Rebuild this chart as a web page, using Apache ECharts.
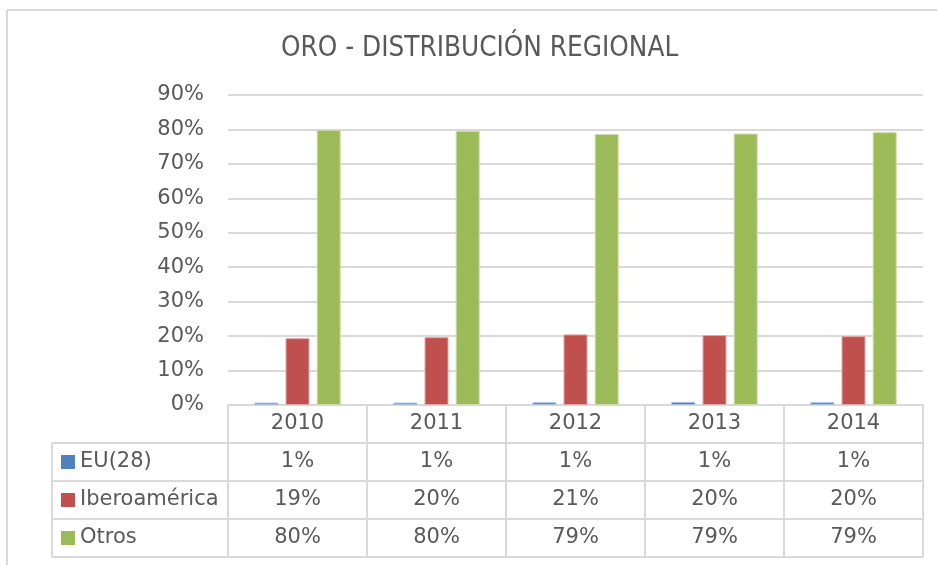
<!DOCTYPE html>
<html>
<head>
<meta charset="utf-8">
<script src="https://cdn.jsdelivr.net/npm/echarts@6/dist/echarts.min.js"></script>
<style>
  html, body { margin: 0; padding: 0; background: #fff; overflow: hidden; }
  #box { width: 937px; height: 565px; }
</style>
</head>
<body>
<div id="box"></div>
<script>
// datos del gráfico (porcentajes)
var years = ['2010', '2011', '2012', '2013', '2014'];
var seriesNames = ['EU(28)', 'Iberoamérica', 'Otros'];
var eu = [0.7, 0.7, 0.8, 0.9, 0.8];
var ibero = [19.4, 19.7, 20.5, 20.3, 20.0];
var otros = [79.9, 79.6, 78.7, 78.8, 79.2];
var yTicks = [0, 10, 20, 30, 40, 50, 60, 70, 80, 90];

var colors = ['#4f81bd', '#c0504d', '#9bbb59'];
var gray = '#595959';
var lineGray = '#d9d9d9';
var font = 'DejaVu Sans';
var fs = 21;

// layout
var gridLeft = 228, gridRight = 14, gridTop = 95, gridBottom = 160;
var rowH = 38;
var tableLeft = 52;
var H = 565, W = 937;
var axisY = H - gridBottom;

function pct(arr) {
    return arr.map(function (v) { return Math.round(v) + '%'; });
}

// fila de la tabla como eje x extra
function rowAxis(idx, data) {
    return {
        type: 'category',
        gridIndex: 0,
        position: 'bottom',
        offset: rowH * idx,
        data: data,
        axisLine: {show: true, lineStyle: {color: lineGray, width: 2}},
        axisTick: {show: true, interval: 0, length: rowH, lineStyle: {color: lineGray, width: 2}},
        axisLabel: {
            show: true, interval: 0, margin: rowH / 2, verticalAlign: 'middle',
            color: gray, fontSize: fs, fontFamily: font
        },
        splitLine: {show: false}
    };
}

var chart = echarts.init(document.getElementById('box'));

var xAxes = [
    rowAxis(0, years),
    rowAxis(1, pct(eu)),
    rowAxis(2, pct(ibero)),
    rowAxis(3, pct(otros)),
    {
        type: 'category', gridIndex: 0, position: 'bottom', offset: rowH * 4,
        data: years,
        axisLine: {show: true, lineStyle: {color: lineGray, width: 2}},
        axisTick: {show: false}, axisLabel: {show: false}
    }
];

// líneas de la columna izquierda
var leftLines = [];
for (var i = 1; i <= 4; i++) {
    leftLines.push({
        type: 'line',
        shape: {x1: tableLeft, y1: axisY + rowH * i, x2: gridLeft, y2: axisY + rowH * i},
        style: {stroke: lineGray, lineWidth: 2}
    });
}
leftLines.push({
    type: 'line',
    shape: {x1: tableLeft, y1: axisY + rowH, x2: tableLeft, y2: axisY + rowH * 4},
    style: {stroke: lineGray, lineWidth: 2}
});
// marco exterior (solo lados izquierdo y superior visibles)
leftLines.push({
    type: 'line',
    shape: {x1: 7, y1: 10, x2: 7, y2: H},
    style: {stroke: lineGray, lineWidth: 2}
});
leftLines.push({
    type: 'line',
    shape: {x1: 7, y1: 10, x2: W, y2: 10},
    style: {stroke: lineGray, lineWidth: 2}
});

var option = {
    animation: false,
    color: colors,
    title: {
        text: 'ORO - DISTRIBUCIÓN REGIONAL',
        left: 281,
        top: 35,
        padding: 0,
        textStyle: {color: gray, fontSize: 27.6, fontWeight: 'normal', fontFamily: 'DejaVu Sans Condensed'}
    },
    legend: {
        orient: 'vertical',
        left: 61,
        top: axisY + rowH + rowH / 2 - 11,
        padding: 0,
        itemWidth: 14,
        itemHeight: 14,
        itemGap: rowH - 22,
        icon: 'rect',
        itemStyle: {borderWidth: 0},
        data: seriesNames,
        textStyle: {color: gray, fontSize: fs, fontFamily: font, lineHeight: 22}
    },
    grid: {left: gridLeft, right: gridRight, top: gridTop, bottom: gridBottom},
    xAxis: xAxes,
    yAxis: {
        type: 'value',
        min: yTicks[0],
        max: yTicks[yTicks.length - 1],
        interval: 10,
        axisLine: {show: false},
        axisTick: {show: false},
        axisLabel: {formatter: '{value}%', color: gray, fontSize: fs, fontFamily: font, margin: 24},
        splitLine: {lineStyle: {color: lineGray, width: 2}}
    },
    graphic: leftLines,
    series: [
        {name: seriesNames[0], type: 'bar', data: eu, barWidth: 24, barGap: '30%',
         itemStyle: {borderColor: '#a7c0de', borderWidth: 1}},
        {name: seriesNames[1], type: 'bar', data: ibero, barWidth: 24, barGap: '30%',
         itemStyle: {borderColor: '#dfa7a6', borderWidth: 1}},
        {name: seriesNames[2], type: 'bar', data: otros, barWidth: 24, barGap: '30%',
         itemStyle: {borderColor: '#cddcac', borderWidth: 1}}
    ]
};
chart.setOption(option);
</script>
</body>
</html>
